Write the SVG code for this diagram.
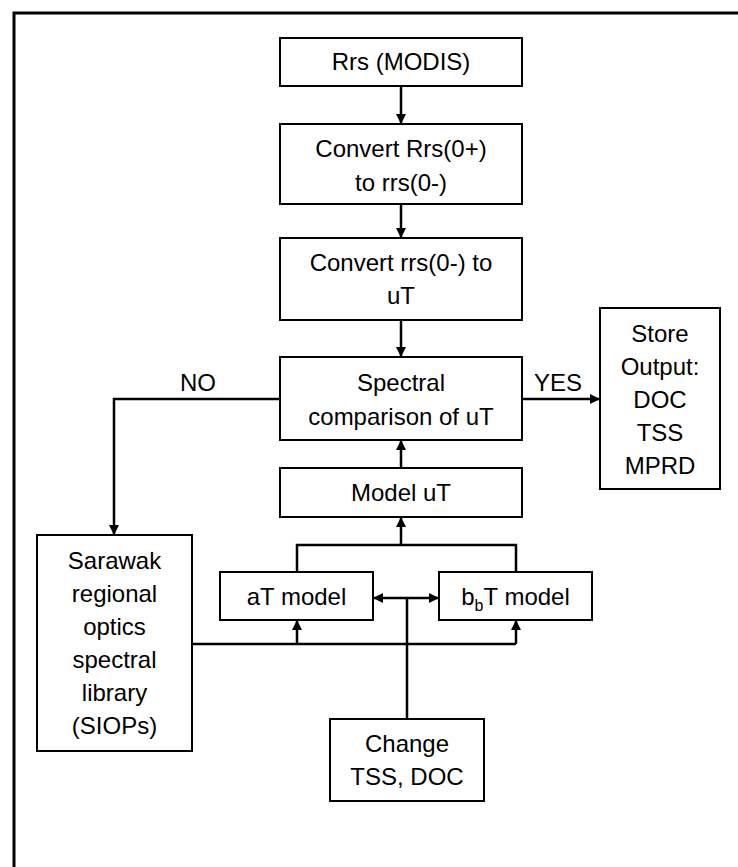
<svg xmlns="http://www.w3.org/2000/svg" width="738" height="867" viewBox="0 0 738 867">
<defs>
<marker id="ah" viewBox="0 0 10 10" refX="10" refY="5" markerWidth="10" markerHeight="11" markerUnits="userSpaceOnUse" orient="auto-start-reverse">
<path d="M0,0 L10,5 L0,10 Z" fill="#000"/>
</marker>
<style>
.box{fill:#fff;stroke:#000;stroke-width:2}
.t{font-family:"Liberation Sans",Arial,sans-serif;font-size:24px;fill:#000;text-anchor:middle}
.c{fill:none;stroke:#000;stroke-width:2.5}
</style>
</defs>
<rect width="738" height="867" fill="#fff"/>
<path d="M14,867 V13 H738" fill="none" stroke="#000" stroke-width="3"/>

<g id="connectors">
<path class="c" d="M401,86 V124" marker-end="url(#ah)"/>
<path class="c" d="M401,204 V238" marker-end="url(#ah)"/>
<path class="c" d="M401,320 V357" marker-end="url(#ah)"/>
<path class="c" d="M280,399 H114 V535" marker-end="url(#ah)"/>
<path class="c" d="M522,399 H600" marker-end="url(#ah)"/>
<path class="c" d="M401,468 V440" marker-end="url(#ah)"/>
<path class="c" d="M297,572 V545 H516 V572"/>
<path class="c" d="M401,545 V517" marker-end="url(#ah)"/>
<path class="c" d="M192,644 H516"/>
<path class="c" d="M297,644 V620" marker-end="url(#ah)"/>
<path class="c" d="M516,644 V620" marker-end="url(#ah)"/>
<path class="c" d="M407,719 V598"/>
<path class="c" d="M373,598 H439" marker-start="url(#ah)" marker-end="url(#ah)"/>
<text class="t" x="198" y="391">NO</text>
<text class="t" x="558" y="391">YES</text>
</g>

<g id="rrs">
<rect class="box" x="280" y="38" width="242" height="48"/>
<text class="t" x="401" y="70">Rrs (MODIS)</text>
</g>
<g id="convert1">
<rect class="box" x="280" y="124" width="242" height="80"/>
<text class="t" x="401" y="157">Convert Rrs(0+)</text>
<text class="t" x="401" y="191">to rrs(0-)</text>
</g>
<g id="convert2">
<rect class="box" x="280" y="238" width="242" height="82"/>
<text class="t" x="401" y="271">Convert rrs(0-) to</text>
<text class="t" x="401" y="304">uT</text>
</g>
<g id="spectral">
<rect class="box" x="280" y="357" width="242" height="83"/>
<text class="t" x="401" y="391">Spectral</text>
<text class="t" x="401" y="425">comparison of uT</text>
</g>
<g id="store">
<rect class="box" x="600" y="308" width="120" height="181"/>
<text class="t" x="660" y="342">Store</text>
<text class="t" x="660" y="375">Output:</text>
<text class="t" x="660" y="408">DOC</text>
<text class="t" x="660" y="441">TSS</text>
<text class="t" x="660" y="474">MPRD</text>
</g>
<g id="modelut">
<rect class="box" x="280" y="468" width="242" height="49"/>
<text class="t" x="401" y="501">Model uT</text>
</g>
<g id="atmodel">
<rect class="box" x="220" y="572" width="153" height="48"/>
<text class="t" x="296.5" y="605">aT model</text>
</g>
<g id="bbtmodel">
<rect class="box" x="439" y="572" width="153" height="48"/>
<text class="t" x="515.5" y="605">b<tspan font-size="16" dy="6">b</tspan><tspan dy="-6">T model</tspan></text>
</g>
<g id="sarawak">
<rect class="box" x="37" y="535" width="155" height="216"/>
<text class="t" x="114.5" y="569">Sarawak</text>
<text class="t" x="114.5" y="602">regional</text>
<text class="t" x="114.5" y="635">optics</text>
<text class="t" x="114.5" y="668">spectral</text>
<text class="t" x="114.5" y="701">library</text>
<text class="t" x="114.5" y="734">(SIOPs)</text>
</g>
<g id="change">
<rect class="box" x="330" y="719" width="154" height="82"/>
<text class="t" x="407" y="752">Change</text>
<text class="t" x="407" y="785">TSS, DOC</text>
</g>
</svg>
